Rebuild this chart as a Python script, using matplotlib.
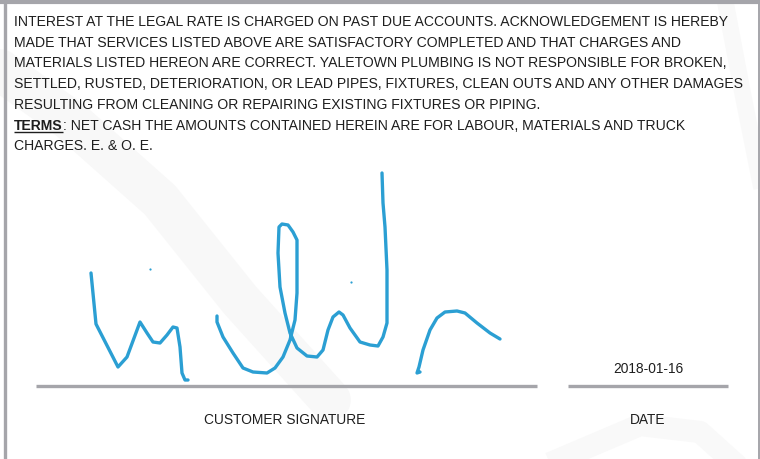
"""
Signed service form footer: terms paragraph, customer signature strokes, date line.
Output: out.png (760x459)
"""
import numpy as np
import matplotlib
matplotlib.use("Agg")
import matplotlib.pyplot as plt

W, H = 760, 459
INK = "#2b9fd3"
RULE = "#a5a5aa"
TEXT = "#1e1e1e"

TERMS_LINES = [
    "INTEREST AT THE LEGAL RATE IS CHARGED ON PAST DUE ACCOUNTS. ACKNOWLEDGEMENT IS HEREBY",
    "MADE THAT SERVICES LISTED ABOVE ARE SATISFACTORY COMPLETED AND THAT CHARGES AND",
    "MATERIALS LISTED HEREON ARE CORRECT. YALETOWN PLUMBING IS NOT RESPONSIBLE FOR BROKEN,",
    "SETTLED, RUSTED, DETERIORATION, OR LEAD PIPES, FIXTURES, CLEAN OUTS AND ANY OTHER DAMAGES",
    "RESULTING FROM CLEANING OR REPAIRING EXISTING FIXTURES OR PIPING.",
    None,  # TERMS line, drawn separately (bold + underline)
    "CHARGES. E. & O. E.",
]
TERMS_LABEL = "TERMS"
TERMS_REST = ": NET CASH THE AMOUNTS CONTAINED HEREIN ARE FOR LABOUR, MATERIALS AND TRUCK"
DATE_VALUE = "2018-01-16"
SIG_LABEL = "CUSTOMER SIGNATURE"
DATE_LABEL = "DATE"

# signature strokes, pixel coords
stroke_w_x = [91, 96, 118, 127, 140, 147, 153, 160, 167, 173, 177, 180, 182, 185, 188]
stroke_w_y = [273, 324, 367, 357, 322, 333, 342, 343, 335, 327, 328, 347, 373, 380, 380]
stroke_l_x = [217, 217, 223, 233, 243, 253, 267, 275, 283, 290, 295, 297, 297, 297, 293,
              288, 282, 279, 278, 280, 285, 290, 297, 307, 317, 323, 328, 333, 339, 343,
              350, 360, 370, 378, 383, 387, 387, 385, 383, 382]
stroke_l_y = [316, 322, 337, 353, 368, 372, 373, 368, 357, 340, 320, 293, 260, 240, 232,
              225, 224, 227, 253, 287, 313, 333, 348, 356, 357, 350, 330, 317, 312, 315,
              328, 342, 345, 346, 337, 323, 270, 227, 203, 173]
stroke_n_x = [420, 417, 419, 423, 430, 437, 445, 457, 465, 477, 490, 500]
stroke_n_y = [372, 373, 367, 350, 330, 318, 312, 311, 313, 323, 333, 339]
dots_x = [150, 351]
dots_y = [269, 282]


def main():
    plt.rcParams["font.family"] = ["Liberation Sans", "DejaVu Sans"]
    fig = plt.figure(figsize=(W / 100, H / 100), dpi=100)
    ax = fig.add_axes([0, 0, 1, 1])
    ax.set_xlim(0, W); ax.set_ylim(H, 0); ax.axis("off")

    # faint watermark swooshes
    ax.plot([0, 70, 160, 240, 330], [70, 120, 200, 300, 400], color="#f8f8f8", lw=30,
            solid_capstyle="round", zorder=0)
    ax.plot([725, 742, 760], [0, 90, 180], color="#f9f9f9", lw=12, zorder=0)
    ax.plot([560, 640, 700, 730], [459, 425, 432, 459], color="#f9f9f9", lw=16, zorder=0)

    # border
    ax.plot([4.5, 4.5], [0, H], color=RULE, lw=2.4, solid_capstyle="butt")
    ax.plot([0, W], [1.5, 1.5], color=RULE, lw=3.0, solid_capstyle="butt")
    ax.plot([758.5, 758.5], [0, H], color=RULE, lw=1.4, solid_capstyle="butt")

    # terms paragraph
    fs = 10.1
    y0, dy = 26, 20.7
    for i, line in enumerate(TERMS_LINES):
        if line is None:
            continue
        ax.text(14, y0 + i * dy, line, fontsize=fs, color=TEXT, va="baseline", ha="left")
    yt = y0 + 5 * dy
    t = ax.text(14, yt, TERMS_LABEL, fontsize=fs, color=TEXT, va="baseline", ha="left",
                fontweight="bold")
    fig.canvas.draw()
    bb = t.get_window_extent().transformed(ax.transData.inverted())
    x_end = max(bb.x0, bb.x1)
    ax.plot([14, x_end], [yt + 2.2, yt + 2.2], color=TEXT, lw=1.0, solid_capstyle="butt")
    ax.text(x_end, yt, TERMS_REST, fontsize=fs, color=TEXT, va="baseline", ha="left")

    # signature
    for xs, ys in [(stroke_w_x, stroke_w_y), (stroke_l_x, stroke_l_y), (stroke_n_x, stroke_n_y)]:
        ax.plot(xs, ys, color=INK, lw=2.4, solid_joinstyle="round", solid_capstyle="round")
    ax.plot(dots_x, dots_y, "o", color=INK, ms=1.6, mew=0)

    # signature / date lines and labels
    ax.plot([36, 537], [385.5, 385.5], color=RULE, lw=2.4, solid_capstyle="butt")
    ax.plot([568, 728], [385.5, 385.5], color=RULE, lw=2.4, solid_capstyle="butt")
    ax.text(648, 373, DATE_VALUE, fontsize=9.9, color=TEXT, ha="center", va="baseline")
    ax.text(285, 424, SIG_LABEL, fontsize=9.9, color=TEXT, ha="center", va="baseline")
    ax.text(648, 424, DATE_LABEL, fontsize=9.9, color=TEXT, ha="center", va="baseline")

    fig.savefig("out.png", dpi=100)
    plt.close(fig)


if __name__ == "__main__":
    main()
